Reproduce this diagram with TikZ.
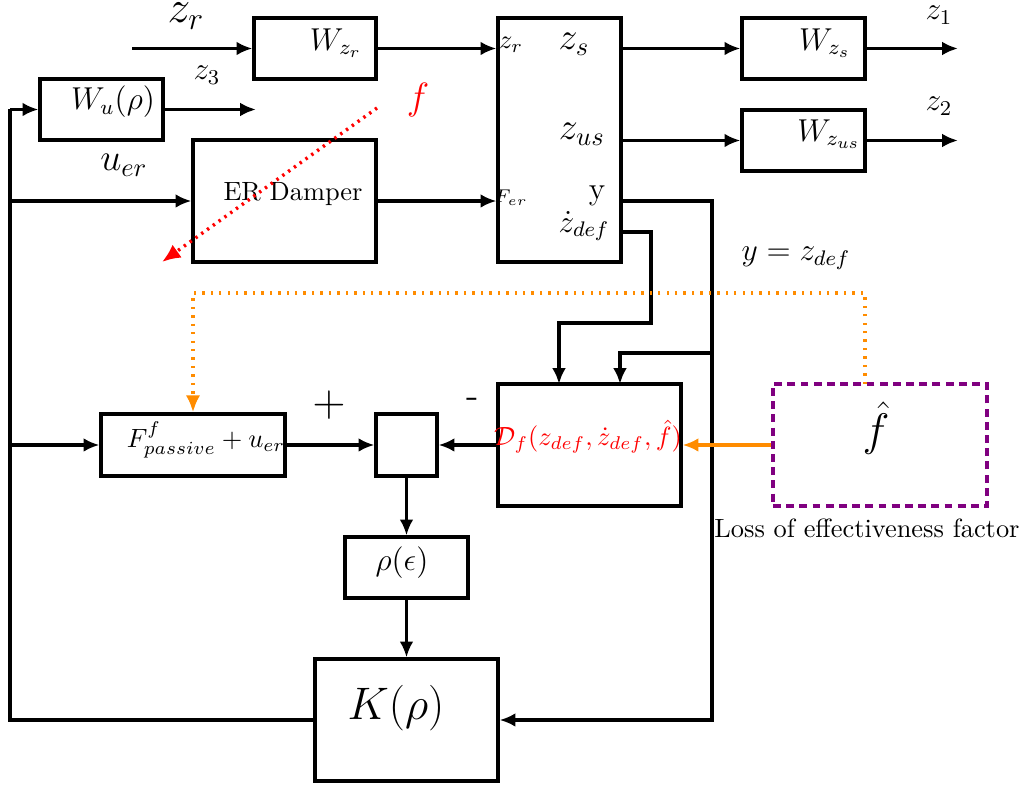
\documentclass[tikz,border=0pt]{standalone}
\usetikzlibrary{arrows.meta,fit}
\definecolor{fpurple}{RGB}{128,0,128}
\definecolor{forange}{RGB}{255,140,0}
\begin{document}
\begin{tikzpicture}[x=0.379pt,y=-0.379pt,
  blk/.style={draw, line width=1.2pt, inner sep=0pt, rectangle},
  ln/.style={line width=1.2pt},
  arr/.style={ln, -{Latex[length=6pt,width=5.2pt]}},
  oarr/.style={line width=1.3pt, forange, -{Latex[length=6pt,width=5.2pt]}},
  odot/.style={line width=1.3pt, forange, dash pattern=on 0.9pt off 2.3pt, -{Latex[length=6.5pt,width=5.5pt]}},
  rdot/.style={line width=1.3pt, red, dash pattern=on 0.9pt off 1.8pt, -{Latex[length=7pt,width=6pt]}},
  txt/.style={inner sep=0pt, anchor=center}]
\useasboundingbox (0,0) rectangle (1023,785);
% blocks
\node[blk, fit={(254,18)(376,79)}] (wzr) {};
\node[blk, fit={(40,79)(163,140)}] (wu) {};
\node[blk, fit={(193,140)(376,262)}] (er) {};
\node[blk, fit={(498,18)(621,262)}] (plant) {};
\node[blk, fit={(742,18)(865,79)}] (wzs) {};
\node[blk, fit={(742,110)(865,171)}] (wzus) {};
\node[blk, fit={(101,414)(285,476)}] (fp) {};
\node[blk, fit={(376,414)(437,476)}] (sum) {};
\node[blk, fit={(498,384)(681,506)}] (df) {};
\node[blk, draw=fpurple, line width=1.3pt, dash pattern=on 3pt off 2pt, fit={(773,384)(987,506)}] (fh) {};
\node[blk, fit={(345,537)(468,598)}] (rho) {};
\node[blk, fit={(315,659)(498,781)}] (K) {};
% texts
\node[txt] (tzr) at (186,16) {\LARGE $z_r$};
\node[txt] (twzr) at (336,43) {\large $W_{z_r}$};
\node[txt] (twu) at (113,102) {\large $W_u(\rho)$};
\node[txt] (tz3) at (207,75) {\large $z_3$};
\node[txt] (tuer) at (124,165) {\Large $u_{er}$};
\node[txt] (ter) at (293,194) {ER Damper};
\node[txt, red] (tf) at (418,100) {\Large $f$};
\node[txt] (tpzr) at (511,45) {$z_r$};
\node[txt] (tzs) at (574,44) {\Large $z_s$};
\node[txt] (tzus) at (582,134) {\Large $z_{us}$};
\node[txt] (ty) at (597,196) {\large y};
\node[txt] (tzd) at (584,226) {\large $\dot z_{def}$};
\node[txt] (tfer) at (511,198) {\scriptsize $F_{er}$};
\node[txt] (twzs) at (825,43) {\large $W_{z_s}$};
\node[txt] (twzus) at (829,134) {\large $W_{z_{us}}$};
\node[txt] (tz1) at (939,15) {\large $z_1$};
\node[txt] (tz2) at (939,106) {\large $z_2$};
\node[txt] (tyz) at (796,258) {\large $y=z_{def}$};
\node[txt] (tfp) at (206,440) {$F^f_{passive}+u_{er}$};
\node[txt] (tplus) at (329,405) {\LARGE $+$};
\node[txt] (tminus) at (473,403) {\Large -};
\node[txt, red] (tdf) at (588,437) {$\mathcal{D}_f(z_{def},\dot z_{def},\hat f)$};
\node[txt] (tfh) at (876,428) {\LARGE $\hat f$};
\node[txt] (tloss) at (867,528) {Loss of effectiveness factor};
\node[txt] (trho) at (402,563) {\large $\rho(\epsilon)$};
\node[txt] (tK) at (396,708) {\LARGE $K(\rho)$};
% coordinates
\coordinate (zrin) at (132,48.5);
\coordinate (z3end) at (256,109.5);
\coordinate (lb) at (10,720);
\coordinate (lt) at (10,109.5);
\coordinate (z1end) at (958,48.5);
\coordinate (z2end) at (958,140.5);
\coordinate (yc) at (712,201);
\coordinate (br) at (712,353);
\coordinate (dfb) at (620,384);
\coordinate (zd) at (651,232);
\coordinate (zdb) at (651,323);
\coordinate (dfa) at (559,384);
\coordinate (oa) at (865,384);
\coordinate (ob) at (865,293);
\coordinate (oc) at (193,293);
\coordinate (fs) at (377,108);
\coordinate (fe) at (162,262);
% connectors
\draw[arr] (zrin) -- (wzr.west);
\draw[arr] (wzr.east) -- (plant.west |- wzr.east);
\draw[arr] (wu.east) -- (z3end);
\draw[ln] (K.west) -- (lb) -- (lt);
\draw[arr] (lt) -- (wu.west);
\draw[arr] (lb |- er.west) -- (er.west);
\draw[arr] (lb |- fp.west) -- (fp.west);
\draw[arr] (er.east) -- (plant.west |- er.east);
\draw[arr] (plant.east |- wzs.west) -- (wzs.west);
\draw[arr] (plant.east |- wzus.west) -- (wzus.west);
\draw[arr] (wzs.east) -- (z1end);
\draw[arr] (wzus.east) -- (z2end);
\draw[arr] (plant.east |- yc) -- (yc) -- (yc |- K.east) -- (K.east);
\draw[arr] (br) -| (dfb);
\draw[arr] (plant.east |- zd) -- (zd) -- (zdb) -| (dfa);
\draw[arr] (fp.east) -- (sum.west);
\draw[arr] (df.west) -- (sum.east);
\draw[arr] (sum.south) -- (rho.north);
\draw[arr] (rho.south) -- (K.north);
\draw[oarr] (fh.west) -- (df.east);
\draw[odot] (oa) -- (ob) -- (oc) -- (fp.north);
\draw[rdot] (fs) -- (fe);
\end{tikzpicture}
\end{document}
